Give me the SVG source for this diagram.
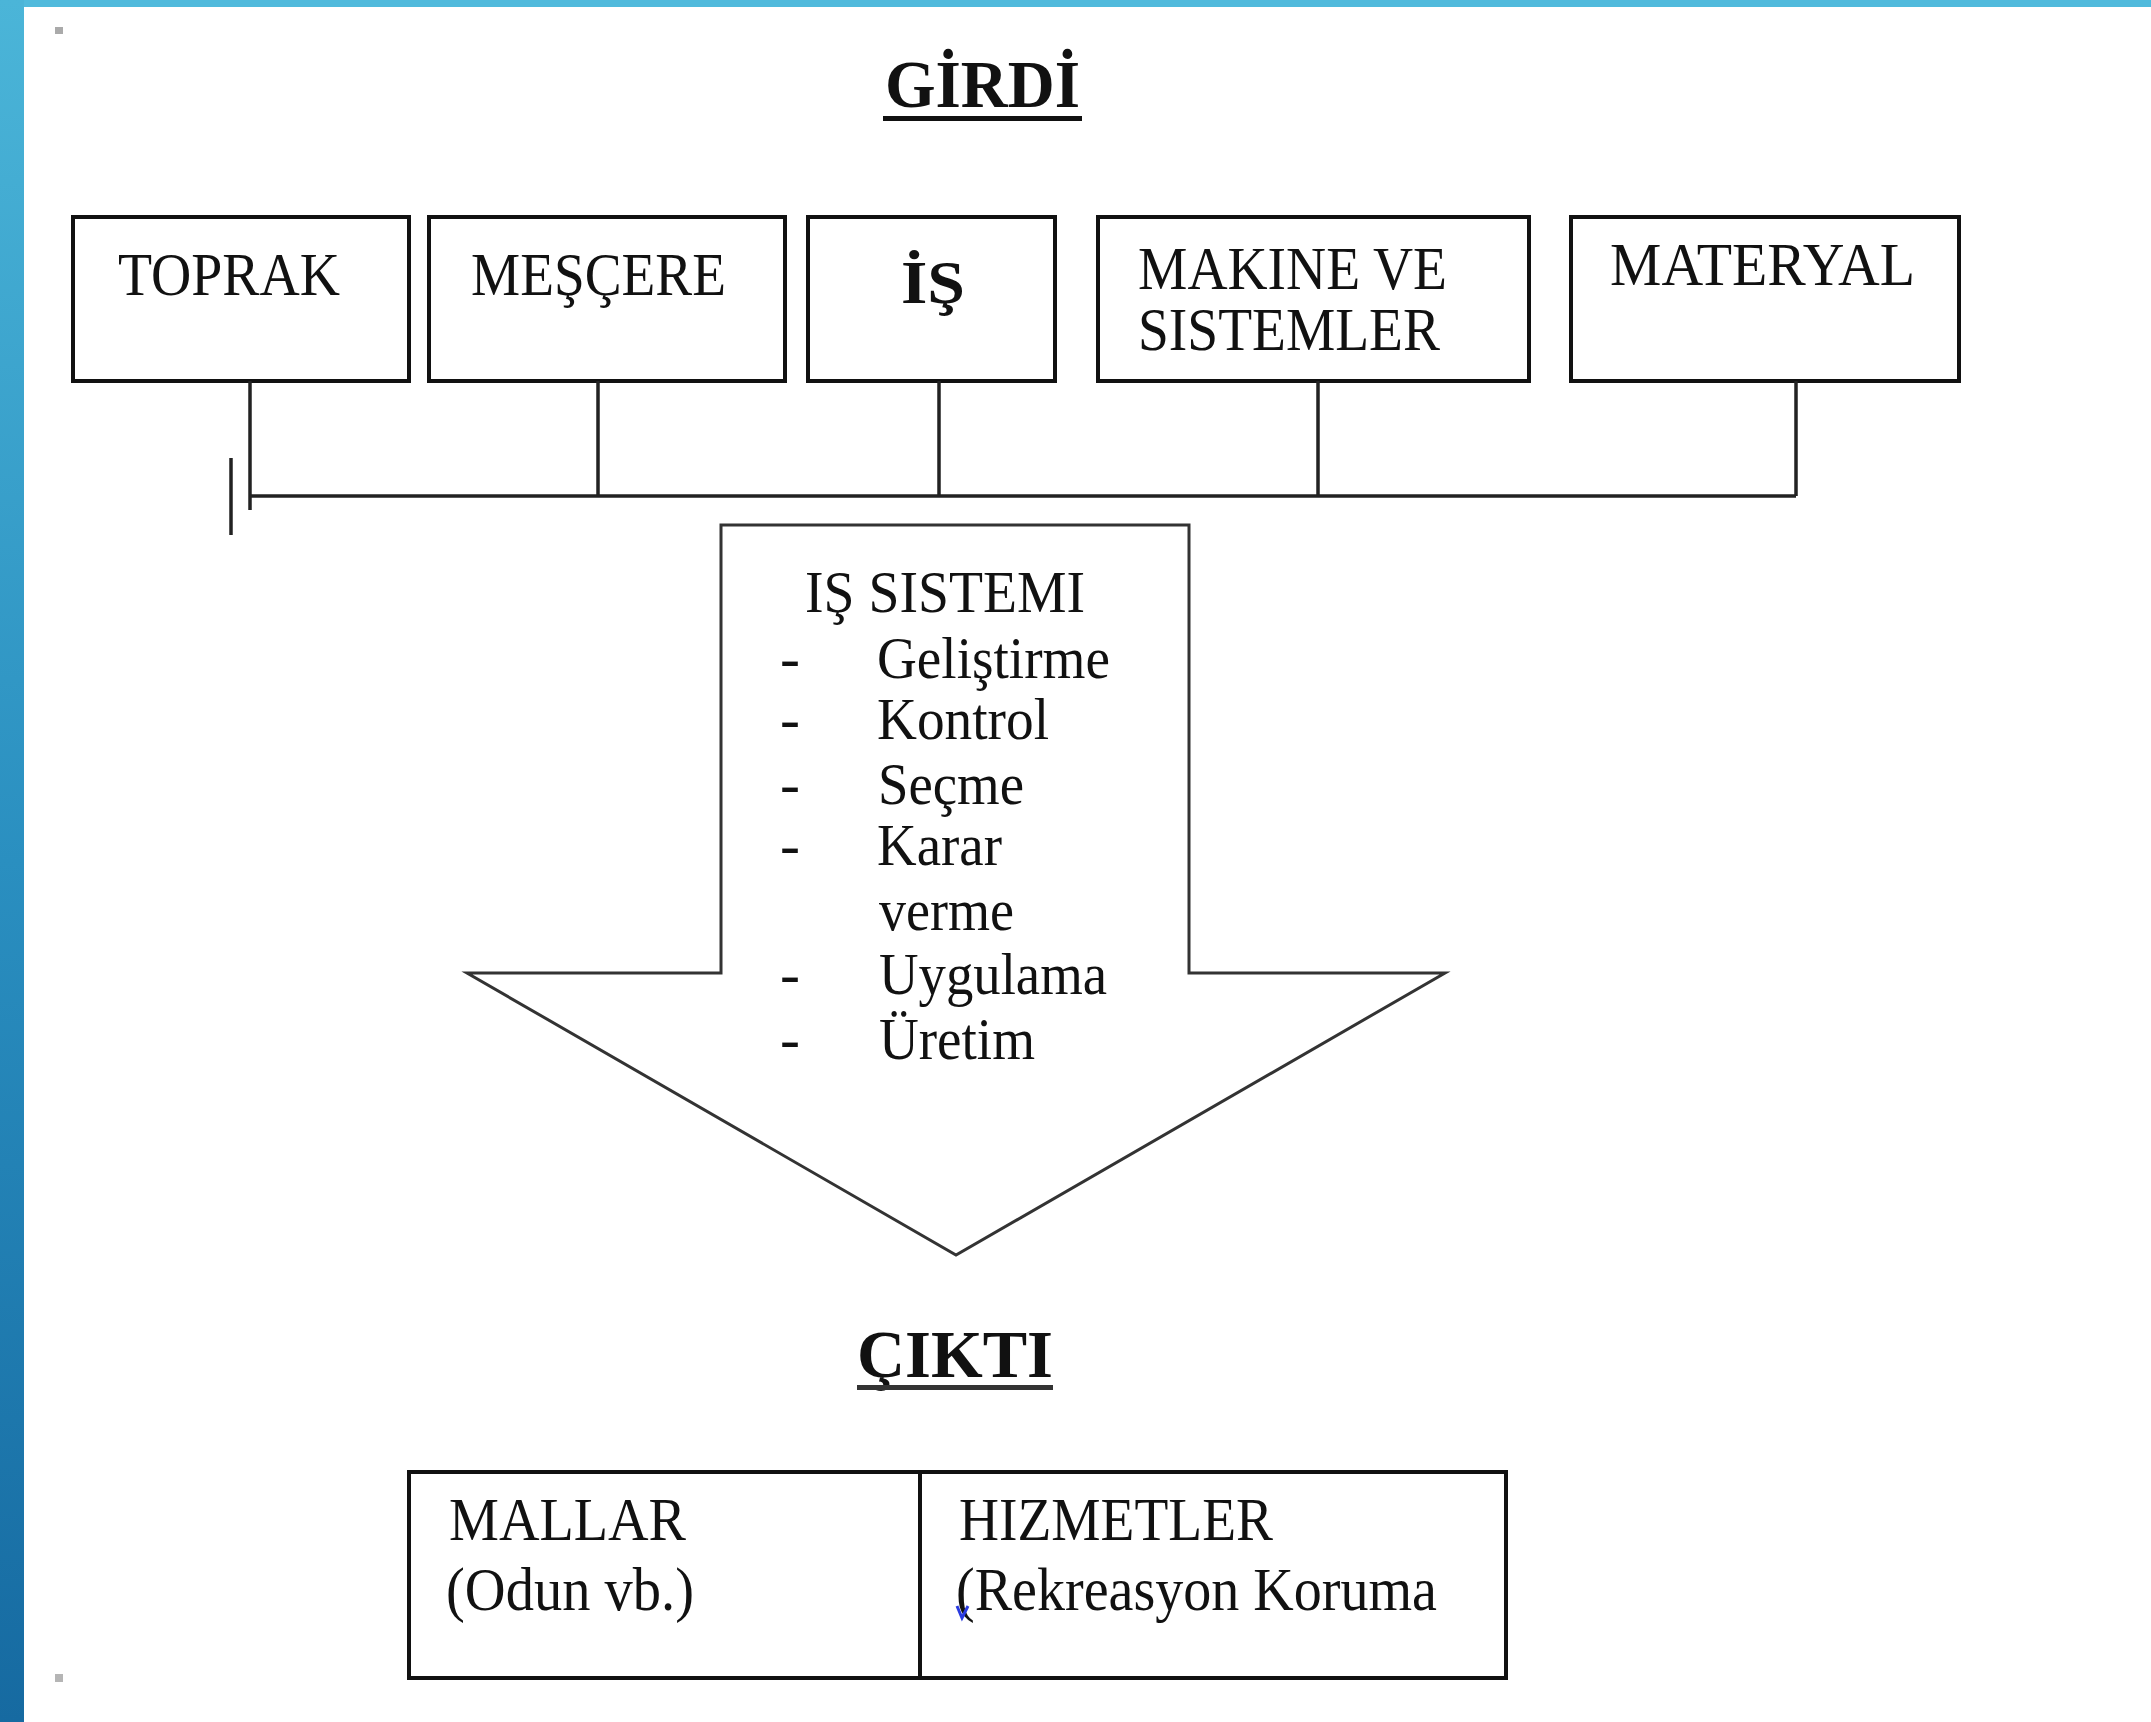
<svg xmlns="http://www.w3.org/2000/svg" width="2151" height="1722" viewBox="0 0 2151 1722">
  <defs>
    <linearGradient id="sideBar" x1="0" y1="0" x2="0" y2="1">
      <stop offset="0" stop-color="#4bb5d8"/>
      <stop offset="0.5" stop-color="#2a8fc0"/>
      <stop offset="1" stop-color="#166aa1"/>
    </linearGradient>
    <style>
      .lbl { font-family: "Liberation Serif", "Times New Roman", serif; font-size: 62px; fill: #111; }
      .item { font-family: "Liberation Serif", "Times New Roman", serif; font-size: 60px; fill: #111; }
      .head { font-family: "Liberation Serif", "Times New Roman", serif; font-size: 68px; font-weight: bold; fill: #111; }
      .box { fill: #fff; stroke: #111; stroke-width: 4; }
      .wire { fill: none; stroke: #222; stroke-width: 3.5; }
      .arrow { fill: #fff; stroke: #333; stroke-width: 3; stroke-linejoin: miter; }
    </style>
  </defs>

  <!-- page background and frame -->
  <rect x="0" y="0" width="2151" height="1722" fill="#fff"/>
  <rect x="0" y="0" width="2151" height="7" fill="#50badc"/>
  <rect x="0" y="0" width="24" height="1722" fill="url(#sideBar)"/>
  <rect x="55" y="27" width="8" height="7" fill="#aaa"/>
  <rect x="55" y="1674" width="8" height="8" fill="#b5b5b5"/>

  <!-- input heading -->
  <g id="girdi">
    <text class="head" x="885" y="107" textLength="195" lengthAdjust="spacingAndGlyphs">GİRDİ</text>
    <rect x="883" y="116" width="199" height="5" fill="#111"/>
  </g>

  <!-- input boxes -->
  <g id="toprak">
    <rect class="box" x="73" y="217" width="336" height="164"/>
    <text class="lbl" x="118" y="295" textLength="222" lengthAdjust="spacingAndGlyphs">TOPRAK</text>
  </g>
  <g id="mescere">
    <rect class="box" x="429" y="217" width="356" height="164"/>
    <text class="lbl" x="471" y="295" textLength="255" lengthAdjust="spacingAndGlyphs">MEŞÇERE</text>
  </g>
  <g id="is">
    <rect class="box" x="808" y="217" width="247" height="164"/>
    <text class="lbl" x="901" y="303" font-weight="bold" textLength="64" lengthAdjust="spacingAndGlyphs">İŞ</text>
  </g>
  <g id="makine">
    <rect class="box" x="1098" y="217" width="431" height="164"/>
    <text class="lbl">
      <tspan x="1138" y="289" textLength="309" lengthAdjust="spacingAndGlyphs">MAKINE VE</tspan>
      <tspan x="1138" y="350" textLength="302" lengthAdjust="spacingAndGlyphs">SISTEMLER</tspan>
    </text>
  </g>
  <g id="materyal">
    <rect class="box" x="1571" y="217" width="388" height="164"/>
    <text class="lbl" x="1610" y="285" textLength="305" lengthAdjust="spacingAndGlyphs">MATERYAL</text>
  </g>

  <!-- connectors: drops from each box to the collecting bus -->
  <g id="connectors">
    <path class="wire" d="M250 381 V510 M598 381 V496 M939 381 V496 M1318 381 V496 M1796 381 V496"/>
    <path class="wire" d="M250 496 H1796"/>
    <path class="wire" stroke-width="3" d="M231 458 V535"/>
  </g>

  <!-- work system block arrow -->
  <g id="is-sistemi">
    <polygon class="arrow" points="721,525 1189,525 1189,973 1445,973 956,1255 467,973 721,973"/>
    <text class="item" x="805" y="612" textLength="280" lengthAdjust="spacingAndGlyphs">IŞ SISTEMI</text>
    <g class="item">
      <text x="780" y="678">-</text>
      <text x="877" y="678" textLength="233" lengthAdjust="spacingAndGlyphs">Geliştirme</text>
      <text x="780" y="739">-</text>
      <text x="877" y="739" textLength="172" lengthAdjust="spacingAndGlyphs">Kontrol</text>
      <text x="780" y="804">-</text>
      <text x="878" y="804" textLength="146" lengthAdjust="spacingAndGlyphs">Seçme</text>
      <text x="780" y="865">-</text>
      <text x="877" y="865" textLength="125" lengthAdjust="spacingAndGlyphs">Karar</text>
      <text x="879" y="930" textLength="135" lengthAdjust="spacingAndGlyphs">verme</text>
      <text x="780" y="994">-</text>
      <text x="879" y="994" textLength="228" lengthAdjust="spacingAndGlyphs">Uygulama</text>
      <text x="780" y="1059">-</text>
      <text x="879" y="1059" textLength="156" lengthAdjust="spacingAndGlyphs">Üretim</text>
    </g>
  </g>

  <!-- output heading -->
  <g id="cikti">
    <text class="head" x="857" y="1377" textLength="196" lengthAdjust="spacingAndGlyphs">ÇIKTI</text>
    <rect x="857" y="1385" width="196" height="5" fill="#333"/>
  </g>

  <!-- output table -->
  <g id="mallar">
    <rect class="box" x="409" y="1472" width="511" height="206"/>
    <text class="lbl" x="449" y="1540" textLength="237" lengthAdjust="spacingAndGlyphs">MALLAR</text>
    <text class="lbl" x="446" y="1610" textLength="248" lengthAdjust="spacingAndGlyphs">(Odun vb.)</text>
  </g>
  <g id="hizmetler">
    <rect class="box" x="920" y="1472" width="586" height="206"/>
    <text class="lbl" x="959" y="1540" textLength="314" lengthAdjust="spacingAndGlyphs">HIZMETLER</text>
    <text class="lbl" x="956" y="1610" textLength="481" lengthAdjust="spacingAndGlyphs">(Rekreasyon Koruma</text>
    <!-- spell-check squiggle under the opening parenthesis -->
    <path d="M957 1606 L962 1618 L968 1606" fill="none" stroke="#2a3be0" stroke-width="3"/>
  </g>
</svg>
